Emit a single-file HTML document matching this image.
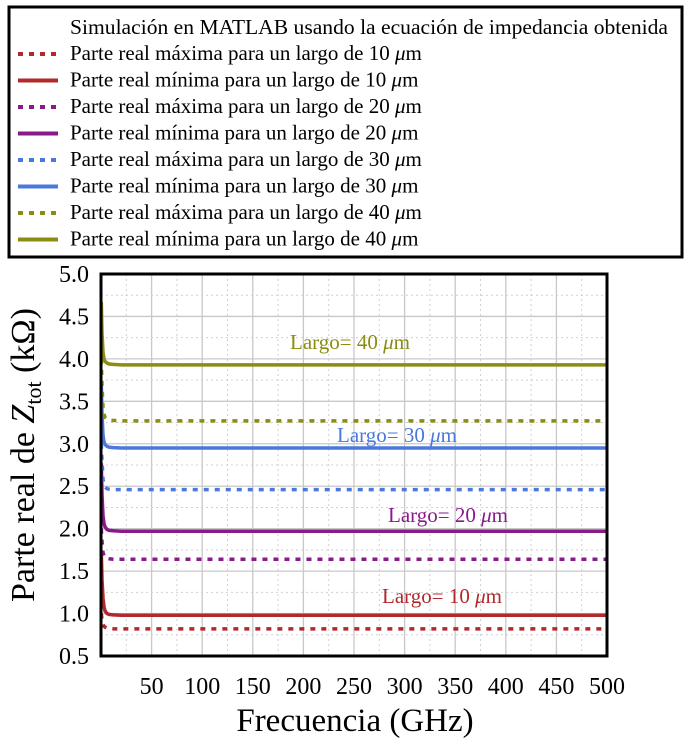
<!DOCTYPE html>
<html><head><meta charset="utf-8"><style>
html,body{margin:0;padding:0;background:#fff;}
svg{display:block;font-family:"Liberation Serif",serif;}
</style></head><body>
<svg width="696" height="749" viewBox="0 0 696 749" xmlns="http://www.w3.org/2000/svg">
<g id="legend"></g>
<g id="grid"></g>
<g id="series"></g>
<g id="axes"></g>
<g id="labels"></g>
</svg>
<script>
const xTicks=[50,100,150,200,250,300,350,400,450,500];
const yTicks=[0.5,1.0,1.5,2.0,2.5,3.0,3.5,4.0,4.5,5.0];
const freqs=[0.3,1,2,3,4,6,8,12,20,50,500];
const red10Min=[1.72,1.40,1.18,1.08,1.03,1.00,0.99,0.985,0.98,0.98,0.98];
const red10Max=[1.00,0.93,0.87,0.85,0.84,0.83,0.825,0.82,0.82,0.82,0.82];
const pur20Min=[2.77,2.40,2.15,2.06,2.02,1.99,1.98,1.975,1.97,1.97,1.97];
const pur20Max=[2.00,1.85,1.72,1.68,1.66,1.65,1.645,1.64,1.64,1.64,1.64];
const blu30Min=[3.69,3.35,3.10,3.02,2.99,2.97,2.96,2.955,2.95,2.95,2.95];
const blu30Max=[3.00,2.80,2.58,2.52,2.49,2.47,2.465,2.46,2.46,2.46,2.46];
const oli40Min=[4.67,4.30,4.08,4.00,3.97,3.95,3.94,3.935,3.93,3.93,3.93];
const oli40Max=[4.00,3.70,3.42,3.35,3.31,3.29,3.28,3.275,3.27,3.27,3.27];
const legendTexts=["Parte real máxima para un largo de 10 ","Parte real mínima para un largo de 10 ","Parte real máxima para un largo de 20 ","Parte real mínima para un largo de 20 ","Parte real máxima para un largo de 30 ","Parte real mínima para un largo de 30 ","Parte real máxima para un largo de 40 ","Parte real mínima para un largo de 40 "];
const C={r:"#b3282c",p:"#8a1a8c",b:"#4a78dc",o:"#8c8c12"};
const NS="http://www.w3.org/2000/svg";
const X0=101,X1=607,Y0=656,Y1=274;
const xs=v=>X0+(v/500)*(X1-X0);
const ys=v=>Y0-(v-0.5)/4.5*(Y0-Y1);
function mk(t,a,p){const e=document.createElementNS(NS,t);for(const k in a)e.setAttribute(k,a[k]);p.appendChild(e);return e;}
const grid=document.getElementById('grid'),axes=document.getElementById('axes'),ser=document.getElementById('series'),lab=document.getElementById('labels'),leg=document.getElementById('legend');
for(let v=25;v<500;v+=25){const l=mk('line',{x1:xs(v),x2:xs(v),y1:Y1,y2:Y0,stroke:v%50?'#d0d0d0':'#c8c8c8','stroke-width':v%50?1:1.3,'stroke-dasharray':v%50?'2,3':''},grid);

}
for(let v=0.75;v<5;v+=0.25){const m=Math.abs((v*2)%1)<1e-6;const l=mk('line',{x1:X0,x2:X1,y1:ys(v),y2:ys(v),stroke:m?'#c8c8c8':'#d0d0d0','stroke-width':m?1.3:1,'stroke-dasharray':m?'':'2,3'},grid);

}
const series=[[red10Max,C.r,1],[red10Min,C.r,0],[pur20Max,C.p,1],[pur20Min,C.p,0],[blu30Max,C.b,1],[blu30Min,C.b,0],[oli40Max,C.o,1],[oli40Min,C.o,0]];
const names=['red-10-max','red-10-min','purple-20-max','purple-20-min','blue-30-max','blue-30-min','olive-40-max','olive-40-min'];
series.forEach((s,i)=>{const d=s[0].map((v,j)=>(j?'L':'M')+xs(freqs[j]).toFixed(2)+','+ys(v).toFixed(2)).join(' ');
const p=mk('path',{d:d,fill:'none',stroke:s[1],'stroke-width':3.5,'stroke-dasharray':s[2]?'5,6':''},ser);

});
const fr=mk('rect',{x:X0,y:Y1,width:X1-X0,height:Y0-Y1,fill:'none',stroke:'#000','stroke-width':3},axes);


xTicks.forEach(v=>{const t=mk('text',{x:xs(v),y:694,'font-size':24,'text-anchor':'middle'},axes);t.textContent=v;

});
yTicks.forEach(v=>{const t=mk('text',{x:89,y:ys(v)+8,'font-size':24,'text-anchor':'end'},axes);t.textContent=v.toFixed(1);

});
const xt=mk('text',{x:355,y:731,'font-size':33,'text-anchor':'middle'},axes);xt.textContent='Frecuencia (GHz)';


const yt=mk('text',{transform:'translate(34,455) rotate(-90)','font-size':34,'text-anchor':'middle'},axes);
yt.innerHTML='Parte real de <tspan font-style="italic">Z</tspan><tspan font-size="22" dy="7">tot</tspan><tspan dy="-7"> (kΩ)</tspan>';


[['Largo= 40 ',290,349,C.o],['Largo= 30 ',337,442,C.b],['Largo= 20 ',388,522,C.p],['Largo= 10 ',382,603,C.r]].forEach(a=>{
const t=mk('text',{x:a[1],y:a[2],'font-size':21,fill:a[3]},lab);t.innerHTML=a[0]+'<tspan font-style="italic">μ</tspan>m';

});
const lb=mk('rect',{x:9,y:7,width:673,height:250,fill:'#fff',stroke:'#000','stroke-width':3},leg);


const lt=mk('text',{x:70,y:34,'font-size':21,textLength:598,lengthAdjust:'spacingAndGlyphs'},leg);lt.textContent='Simulación en MATLAB usando la ecuación de impedancia obtenida';


legendTexts.forEach((s,i)=>{const y=60+i*26.5;const sr=series[i];
const l=mk('line',{x1:18,x2:58,y1:y-6,y2:y-6,stroke:sr[1],'stroke-width':4,'stroke-dasharray':sr[2]?'5,6':''},leg);


const t=mk('text',{x:70,y:y,'font-size':21},leg);t.innerHTML=s+'<tspan font-style="italic">μ</tspan>m';

});
</script>
</body></html>
